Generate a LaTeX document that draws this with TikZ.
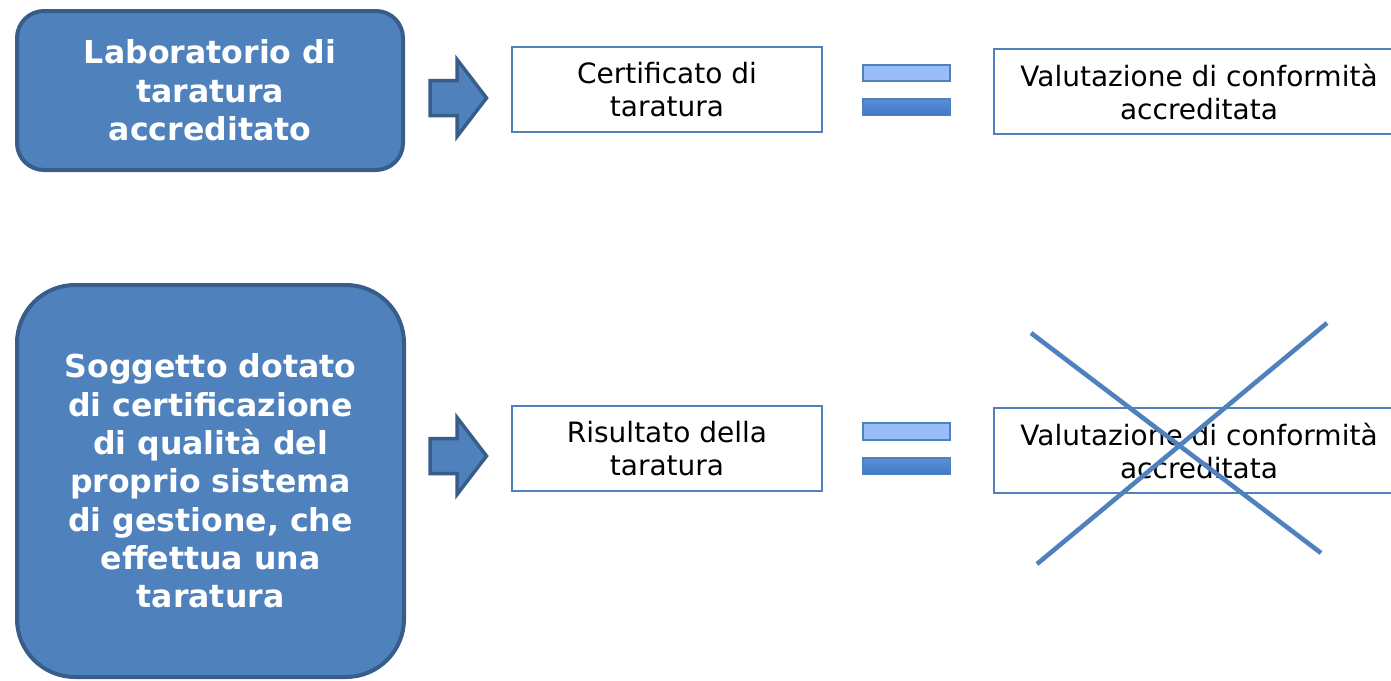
\documentclass[tikz,border=0pt]{standalone}
\usepackage{fontspec}
\setmainfont{DejaVu Sans}
\definecolor{accent}{HTML}{4F81BD}
\definecolor{accentdark}{HTML}{385D8A}
\definecolor{barlight}{HTML}{99BDF8}
\definecolor{bartop}{HTML}{5B8FD8}
\definecolor{barbot}{HTML}{3E79C6}
\begin{document}
\begin{tikzpicture}[x=1pt,y=-1pt,
  bluebox/.style={draw=accentdark, fill=accent, line width=4pt, text=white,
    font=\bfseries\fontsize{31.6}{38.3}\selectfont, align=center, inner sep=0pt},
  whitebox/.style={draw=accent, line width=1.8pt, fill=white,
    font=\fontsize{28}{33}\selectfont, align=center, inner sep=0pt,
    minimum height=85.5pt},
  lightbar/.style={draw=accent, line width=1.8pt, fill=barlight, inner sep=0pt,
    minimum width=87.5pt, minimum height=16.5pt},
  darkbar/.style={draw=accent, line width=1.5pt, top color=bartop, bottom color=barbot,
    inner sep=0pt, minimum width=87.5pt, minimum height=16.5pt},
  fatarrow/.style={draw=accentdark, fill=accent, line width=3.5pt, line join=miter},
  crossline/.style={draw=accent, line width=4.6pt}
]
\useasboundingbox (0,0) rectangle (1391,680);

% left boxes
\node[bluebox, rounded corners=27pt, minimum width=386pt, minimum height=159pt]
  (lab) at (210,90.5) {Laboratorio di\\taratura\\accreditato};
\node[bluebox, rounded corners=58pt, minimum width=387pt, minimum height=392pt]
  (sog) at (210.5,481) {Soggetto dotato\\di certificazione\\di qualità del\\proprio sistema\\di gestione, che\\effettua una\\taratura};

% block arrows
\draw[fatarrow] (430,80.5) -- (457,80.5) -- (457,59.5) -- (486.5,98) -- (457,136.5)
  -- (457,115.5) -- (430,115.5) -- cycle;
\draw[fatarrow] (430,438.5) -- (457,438.5) -- (457,417.5) -- (486.5,456) -- (457,494.5)
  -- (457,473.5) -- (430,473.5) -- cycle;

% middle boxes
\node[whitebox, minimum width=310.5pt] (cert) at (667,89.5) {Certificato di\\taratura};
\node[whitebox, minimum width=310.5pt] (ris) at (667,448.5) {Risultato della\\taratura};

% equals signs
\node[lightbar] (eqAa) at (906.5,73) {};
\node[darkbar]  (eqAb) at (906.5,107) {};
\node[lightbar] (eqBa) at (906.5,431.5) {};
\node[darkbar]  (eqBb) at (906.5,466) {};

% right boxes
\node[whitebox, minimum width=410.5pt] (val1) at (1199,91.5) {Valutazione di conformità\\accreditata};
\node[whitebox, minimum width=410.5pt] (val2) at (1199,450.5) {Valutazione di conformità\\accreditata};

% cross
\coordinate (xa1) at (1031,333);
\coordinate (xa2) at (1321,553);
\coordinate (xb1) at (1037,564);
\coordinate (xb2) at (1327,323);
\draw[crossline] (xa1) -- (xa2);
\draw[crossline] (xb1) -- (xb2);
\end{tikzpicture}
\end{document}
